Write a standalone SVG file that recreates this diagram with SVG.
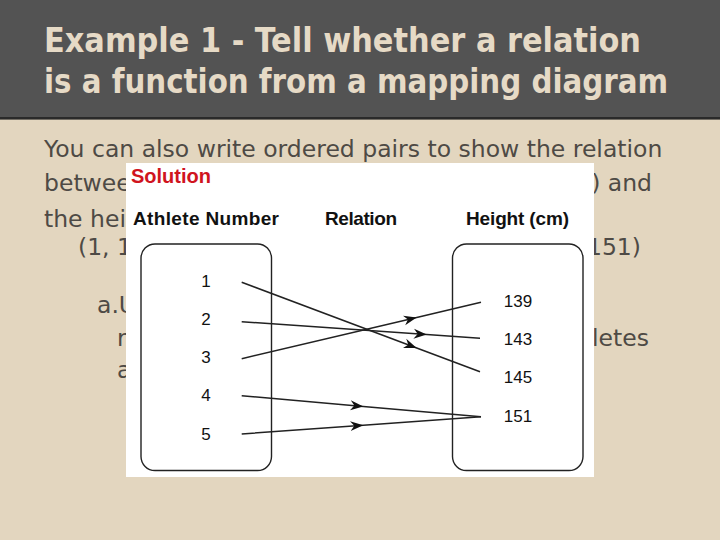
<svg xmlns="http://www.w3.org/2000/svg" width="720" height="540" viewBox="0 0 720 540">
<defs>
<style>
.title{font-family:"DejaVu Sans Condensed","DejaVu Sans",sans-serif;font-weight:bold;font-size:34px;fill:#e6dac6}
.body{font-family:"DejaVu Sans",sans-serif;font-size:23.5px;fill:#4e4a45}
.hdr{font-family:"Liberation Sans",Arial,sans-serif;font-weight:bold;font-size:19px;fill:#111}
.sol{font-family:"Liberation Sans",Arial,sans-serif;font-weight:bold;font-size:20px;fill:#d0141e}
.num{font-family:"Liberation Sans",Arial,sans-serif;font-size:17px;fill:#111;text-anchor:middle}
.set{fill:none;stroke:#222;stroke-width:1.4}
.conn{fill:none;stroke:#222;stroke-width:1.5;marker-mid:url(#arr)}
</style>
<marker id="arr" markerUnits="userSpaceOnUse" markerWidth="16" markerHeight="12" refX="13" refY="6" orient="auto">
<path d="M0,1 L13,6 L0,11 L4,6 Z" fill="#111"/>
</marker>
</defs>
<rect x="0" y="0" width="720" height="540" fill="#e3d6bf"/>
<rect x="0" y="0" width="720" height="117" fill="#535353"/>
<rect x="0" y="117" width="720" height="2.6" fill="#2a2a2a"/>
<text class="title" x="44" y="52" textLength="597" lengthAdjust="spacingAndGlyphs">Example 1 - Tell whether a relation</text>
<text class="title" x="44" y="93" textLength="624" lengthAdjust="spacingAndGlyphs">is a function from a mapping diagram</text>
<g id="body-text">
<text class="body" x="44" y="157">You can also write ordered pairs to show the relation</text>
<text class="body" x="44" y="191">betwee</text>
<text class="body" x="652" y="191" text-anchor="end">) and</text>
<text class="body" x="44" y="227">the hei</text>
<text class="body" x="78" y="255">(1, 1</text>
<text class="body" x="641" y="255" text-anchor="end">151)</text>
<text class="body" x="97" y="313">a.U</text>
<text class="body" x="117" y="346">r</text>
<text class="body" x="649" y="346" text-anchor="end">letes</text>
<text class="body" x="117" y="378">a</text>
</g>
<rect x="126" y="163" width="468" height="314" fill="#ffffff"/>
<text class="sol" x="131" y="183">Solution</text>
<text class="hdr" x="133" y="225" textLength="146">Athlete Number</text>
<text class="hdr" x="325" y="225" textLength="72">Relation</text>
<text class="hdr" x="466" y="225" textLength="103">Height (cm)</text>
<g id="domain">
<rect class="set" x="141" y="244" width="130.5" height="226.5" rx="14"/>
<text class="num" x="206" y="287">1</text>
<text class="num" x="206" y="325">2</text>
<text class="num" x="206" y="363">3</text>
<text class="num" x="206" y="401">4</text>
<text class="num" x="206" y="440">5</text>
</g>
<g id="range">
<rect class="set" x="452.5" y="244" width="130.5" height="226.5" rx="14"/>
<text class="num" x="518" y="307">139</text>
<text class="num" x="518" y="345">143</text>
<text class="num" x="518" y="383">145</text>
<text class="num" x="518" y="422">151</text>
</g>
<g id="connectors">
<path class="conn" d="M241.7,282.3 L416.7,348 L480,371.7"/>
<path class="conn" d="M241.7,321.7 L426.7,334.6 L480,338.3"/>
<path class="conn" d="M241.7,358.7 L416.7,317.5 L481,302.3"/>
<path class="conn" d="M241.7,395.7 L363.3,406.4 L481,416.7"/>
<path class="conn" d="M241.7,434 L363.3,425.2 L481,416.7"/>
</g>
</svg>
